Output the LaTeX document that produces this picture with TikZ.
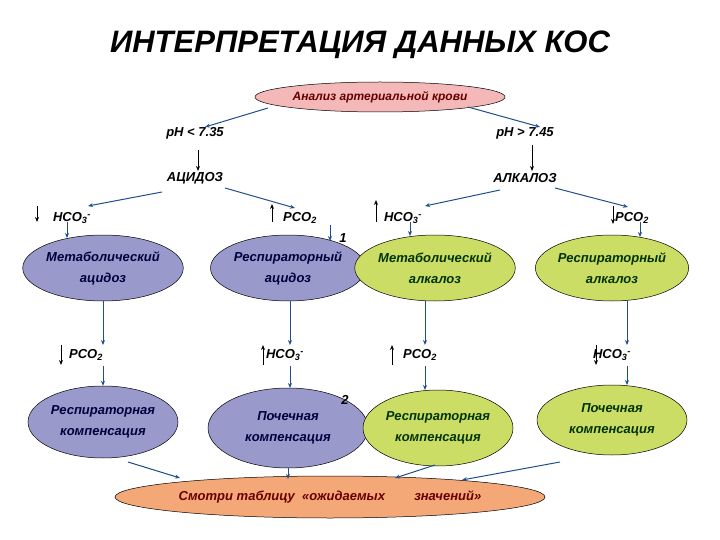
\documentclass[tikz,border=0pt]{standalone}
\usepackage{fontspec}
\setmainfont{Liberation Sans}
\usetikzlibrary{shapes.geometric,arrows.meta}
\definecolor{bl}{HTML}{1F4E8C}
\definecolor{pur}{HTML}{9999CC}
\definecolor{grn}{HTML}{CCDD66}
\definecolor{pink}{HTML}{F4B8B8}
\definecolor{org}{HTML}{F4A878}
\newcommand{\hco}{HCO\textsubscript{3}\textsuperscript{-}}
\newcommand{\pco}{PCO\textsubscript{2}}
\tikzset{
 el/.style={ellipse,draw=black,line width=0.5pt,inner sep=0pt,align=center,font=\fontsize{13}{21}\selectfont\bfseries\itshape},
 pel/.style={el,fill=pur,text=black!60!blue!60!black},
 gel/.style={el,fill=grn,text=black!60!green!50!black},
 lab/.style={font=\fontsize{13}{15}\selectfont\bfseries\itshape,inner sep=1pt},
 ba/.style={-{Stealth[length=5pt,width=4pt]},draw=bl,line width=1pt},
 ka/.style={-{Stealth[length=5pt,width=4pt]},draw=black,line width=0.9pt},
}
\begin{document}
\begin{tikzpicture}[x=1pt,y=-1pt]
\useasboundingbox (0,0) rectangle (720,540);
\node[font=\fontsize{31}{36}\selectfont\bfseries\itshape] (title) at (360,45) {ИНТЕРПРЕТАЦИЯ ДАННЫХ КОС};
\node[el,fill=pink,text=red!40!black,minimum width=250,minimum height=30,font=\fontsize{12}{14}\selectfont\bfseries\itshape] (top) at (380,97) {Анализ артериальной крови};
\node[lab] (phl) at (195,133) {pH < 7.35};
\node[lab] (phr) at (525,133) {pH > 7.45};
\node[lab] (ac) at (195,178) {АЦИДОЗ};
\node[lab] (al) at (525,178) {АЛКАЛОЗ};
\coordinate (t1) at (268,108); \coordinate (t2) at (468,107);
\coordinate (t1e) at (205,127); \coordinate (t2e) at (540,127);
\draw[ba] (t1) -- (t1e);
\draw[ba] (t2) -- (t2e);
\coordinate (k1a) at (198,150); \coordinate (k1b) at (198,171);
\coordinate (k2a) at (532,145); \coordinate (k2b) at (532,171);
\draw[ka] (k1a) -- (k1b); \draw[ka] (k2a) -- (k2b);
\node[lab] (h1) at (72,218) {\hco};
\node[lab] (p1) at (300,218) {\pco};
\node[lab] (h2) at (403,218) {\hco};
\node[lab] (p2) at (632,218) {\pco};
\coordinate (c1) at (162,192); \coordinate (c2) at (225,188);
\coordinate (c3) at (500,190); \coordinate (c4) at (555,188);
\coordinate (c1e) at (88,206); \coordinate (c2e) at (295,208);
\coordinate (c3e) at (425,206); \coordinate (c4e) at (628,207);
\draw[ba] (c1) -- (c1e);
\draw[ba] (c2) -- (c2e);
\draw[ba] (c3) -- (c3e);
\draw[ba] (c4) -- (c4e);
\draw[ka] (37,206)--(37,222); \draw[ka] (272,222)--(272,204);
\draw[ka] (376,222)--(376,200); \draw[ka] (613,206)--(613,224);
\node[pel,minimum width=148,minimum height=66] (ma) at (103,268) {Метаболический\\ацидоз};
\node[pel,minimum width=155,minimum height=66] (ra) at (288,268) {Респираторный\\ацидоз};
\node[gel,minimum width=148,minimum height=66] (mk) at (435,268) {Метаболический\\алкалоз};
\node[gel,minimum width=146,minimum height=66] (rk) at (612,268) {Респираторный\\алкалоз};
\draw[ba] (67,222) -- (67,238);
\draw[ba] (330,225) -- (330,241);
\draw[ba] (410,222) -- (410,236);
\draw[ba] (640,222) -- (640,237);
\node[lab] (n1) at (343,238) {1};
\node[lab] (q1) at (86,355) {\pco};
\node[lab] (q2) at (285,355) {\hco};
\node[lab] (q3) at (420,355) {\pco};
\node[lab] (q4) at (612,355) {\hco};
\draw[ka] (61,345)--(61,365);
\draw[ka] (263,365)--(263,345);
\draw[ka] (392,365)--(392,345);
\draw[ka] (596,345)--(596,365);
\draw[ba] (103,301) -- (103,345);
\draw[ba] (290,301) -- (290,345);
\draw[ba] (425,301) -- (425,345);
\draw[ba] (627,301) -- (627,345);
\node[pel,minimum width=150,minimum height=72] (rc1) at (103,422) {Респираторная\\компенсация};
\node[pel,minimum width=160,minimum height=80] (pc1) at (288,428) {Почечная\\компенсация};
\node[gel,minimum width=150,minimum height=76] (rc2) at (438,428) {Респираторная\\компенсация};
\node[gel,minimum width=150,minimum height=70] (pc2) at (612,420) {Почечная\\компенсация};
\draw[ba] (103,366) -- (rc1.north);
\draw[ba] (290,366) -- (290,388);
\draw[ba] (425,366) -- (425,390);
\draw[ba] (627,366) -- (627,385);
\node[lab] (n2) at (345,400) {2};
\node[el,fill=org,text=red!40!black,minimum width=430,minimum height=42] (bot) at (330,497) {Смотри таблицу~ «ожидаемых \hspace{22pt} значений»};
\coordinate (d1) at (128,462); \coordinate (d1e) at (180,478);
\coordinate (d3) at (435,465); \coordinate (d3e) at (395,478);
\coordinate (d4) at (560,462); \coordinate (d4e) at (462,480);
\draw[ba] (d1) -- (d1e);
\draw[ba] (pc1.south) -- (288,479);
\draw[ba] (d3) -- (d3e);
\draw[ba] (d4) -- (d4e);
\end{tikzpicture}
\end{document}
